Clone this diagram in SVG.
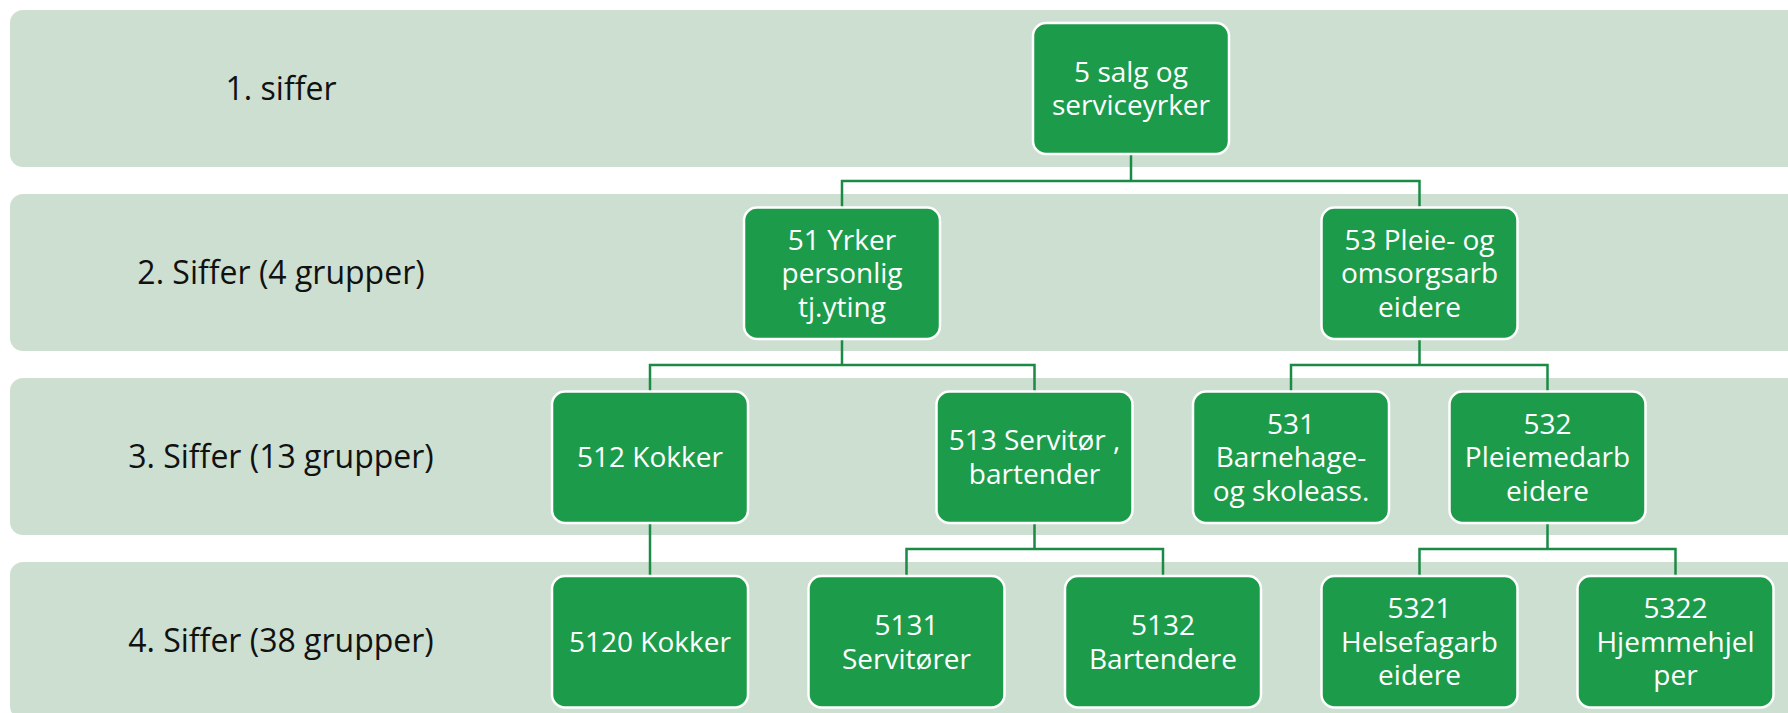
<svg xmlns="http://www.w3.org/2000/svg" width="1788" height="713" viewBox="0 0 1788 713">
<style>
.band{fill:#ccdfd0}
.lbl{font-family:"Open Sans","Noto Sans",sans-serif;font-size:32px;fill:#111111;text-anchor:middle}
.node rect{fill:#1c9c4a;stroke:#ffffff;stroke-width:2.5}
.node text{font-family:"Open Sans","Noto Sans",sans-serif;font-size:28px;fill:#ffffff;text-anchor:middle}
.conn path{fill:none;stroke:#1a8a44;stroke-width:2.5}
</style>
<rect width="1788" height="713" fill="#ffffff"/>
<g id="bands">
<rect class="band" x="10" y="10" width="1800" height="157" rx="13"/>
<rect class="band" x="10" y="194" width="1800" height="157" rx="13"/>
<rect class="band" x="10" y="378" width="1800" height="157" rx="13"/>
<rect class="band" x="10" y="562" width="1800" height="157" rx="13"/>
</g>
<g id="level-labels">
<text class="lbl" x="281" y="99.5">1. siffer</text>
<text class="lbl" x="281" y="283.5">2. Siffer (4 grupper)</text>
<text class="lbl" x="281" y="467.5">3. Siffer (13 grupper)</text>
<text class="lbl" x="281" y="651.5">4. Siffer (38 grupper)</text>
</g>
<g id="connectors" class="conn">
<path d="M842 207.5V181H1419.5V207.5M1131 153.5V181"/>
<path d="M650 391.5V365H1034.5V391.5M842 339V365"/>
<path d="M1291 391.5V365H1547.5V391.5M1419.5 339V365"/>
<path d="M650 523V576"/>
<path d="M906.5 576V549H1163V576M1034.5 523V549"/>
<path d="M1419.5 576V549H1675.5V576M1547.5 523V549"/>
</g>
<g id="n5" class="node">
<rect x="1033" y="23" width="196" height="131" rx="13"/>
<text x="1131" y="81.8">5 salg og<tspan x="1131" dy="33.6">serviceyrker</tspan></text>
</g>
<g id="n51" class="node">
<rect x="744" y="207.5" width="196" height="131.5" rx="13"/>
<text x="842" y="249.6">51 Yrker<tspan x="842" dy="33.6">personlig</tspan><tspan x="842" dy="33.6">tj.yting</tspan></text>
</g>
<g id="n53" class="node">
<rect x="1321.5" y="207.5" width="196" height="131.5" rx="13"/>
<text x="1419.5" y="249.6">53 Pleie- og<tspan x="1419.5" dy="33.6">omsorgsarb</tspan><tspan x="1419.5" dy="33.6">eidere</tspan></text>
</g>
<g id="n512" class="node">
<rect x="552" y="391.5" width="196" height="131.5" rx="13"/>
<text x="650" y="467.2">512 Kokker</text>
</g>
<g id="n513" class="node">
<rect x="936.5" y="391.5" width="196" height="131.5" rx="13"/>
<text x="1034.5" y="450.4">513 Servitør ,<tspan x="1034.5" dy="33.6">bartender</tspan></text>
</g>
<g id="n531" class="node">
<rect x="1193" y="391.5" width="196" height="131.5" rx="13"/>
<text x="1291" y="433.6">531<tspan x="1291" dy="33.6">Barnehage-</tspan><tspan x="1291" dy="33.6">og skoleass.</tspan></text>
</g>
<g id="n532" class="node">
<rect x="1449.5" y="391.5" width="196" height="131.5" rx="13"/>
<text x="1547.5" y="433.6">532<tspan x="1547.5" dy="33.6">Pleiemedarb</tspan><tspan x="1547.5" dy="33.6">eidere</tspan></text>
</g>
<g id="n5120" class="node">
<rect x="552" y="576" width="196" height="131.5" rx="13"/>
<text x="650" y="651.7">5120 Kokker</text>
</g>
<g id="n5131" class="node">
<rect x="808.5" y="576" width="196" height="131.5" rx="13"/>
<text x="906.5" y="634.9">5131<tspan x="906.5" dy="33.6">Servitører</tspan></text>
</g>
<g id="n5132" class="node">
<rect x="1065" y="576" width="196" height="131.5" rx="13"/>
<text x="1163" y="634.9">5132<tspan x="1163" dy="33.6">Bartendere</tspan></text>
</g>
<g id="n5321" class="node">
<rect x="1321.5" y="576" width="196" height="131.5" rx="13"/>
<text x="1419.5" y="618.1">5321<tspan x="1419.5" dy="33.6">Helsefagarb</tspan><tspan x="1419.5" dy="33.6">eidere</tspan></text>
</g>
<g id="n5322" class="node">
<rect x="1577.5" y="576" width="196" height="131.5" rx="13"/>
<text x="1675.5" y="618.1">5322<tspan x="1675.5" dy="33.6">Hjemmehjel</tspan><tspan x="1675.5" dy="33.6">per</tspan></text>
</g>
</svg>
